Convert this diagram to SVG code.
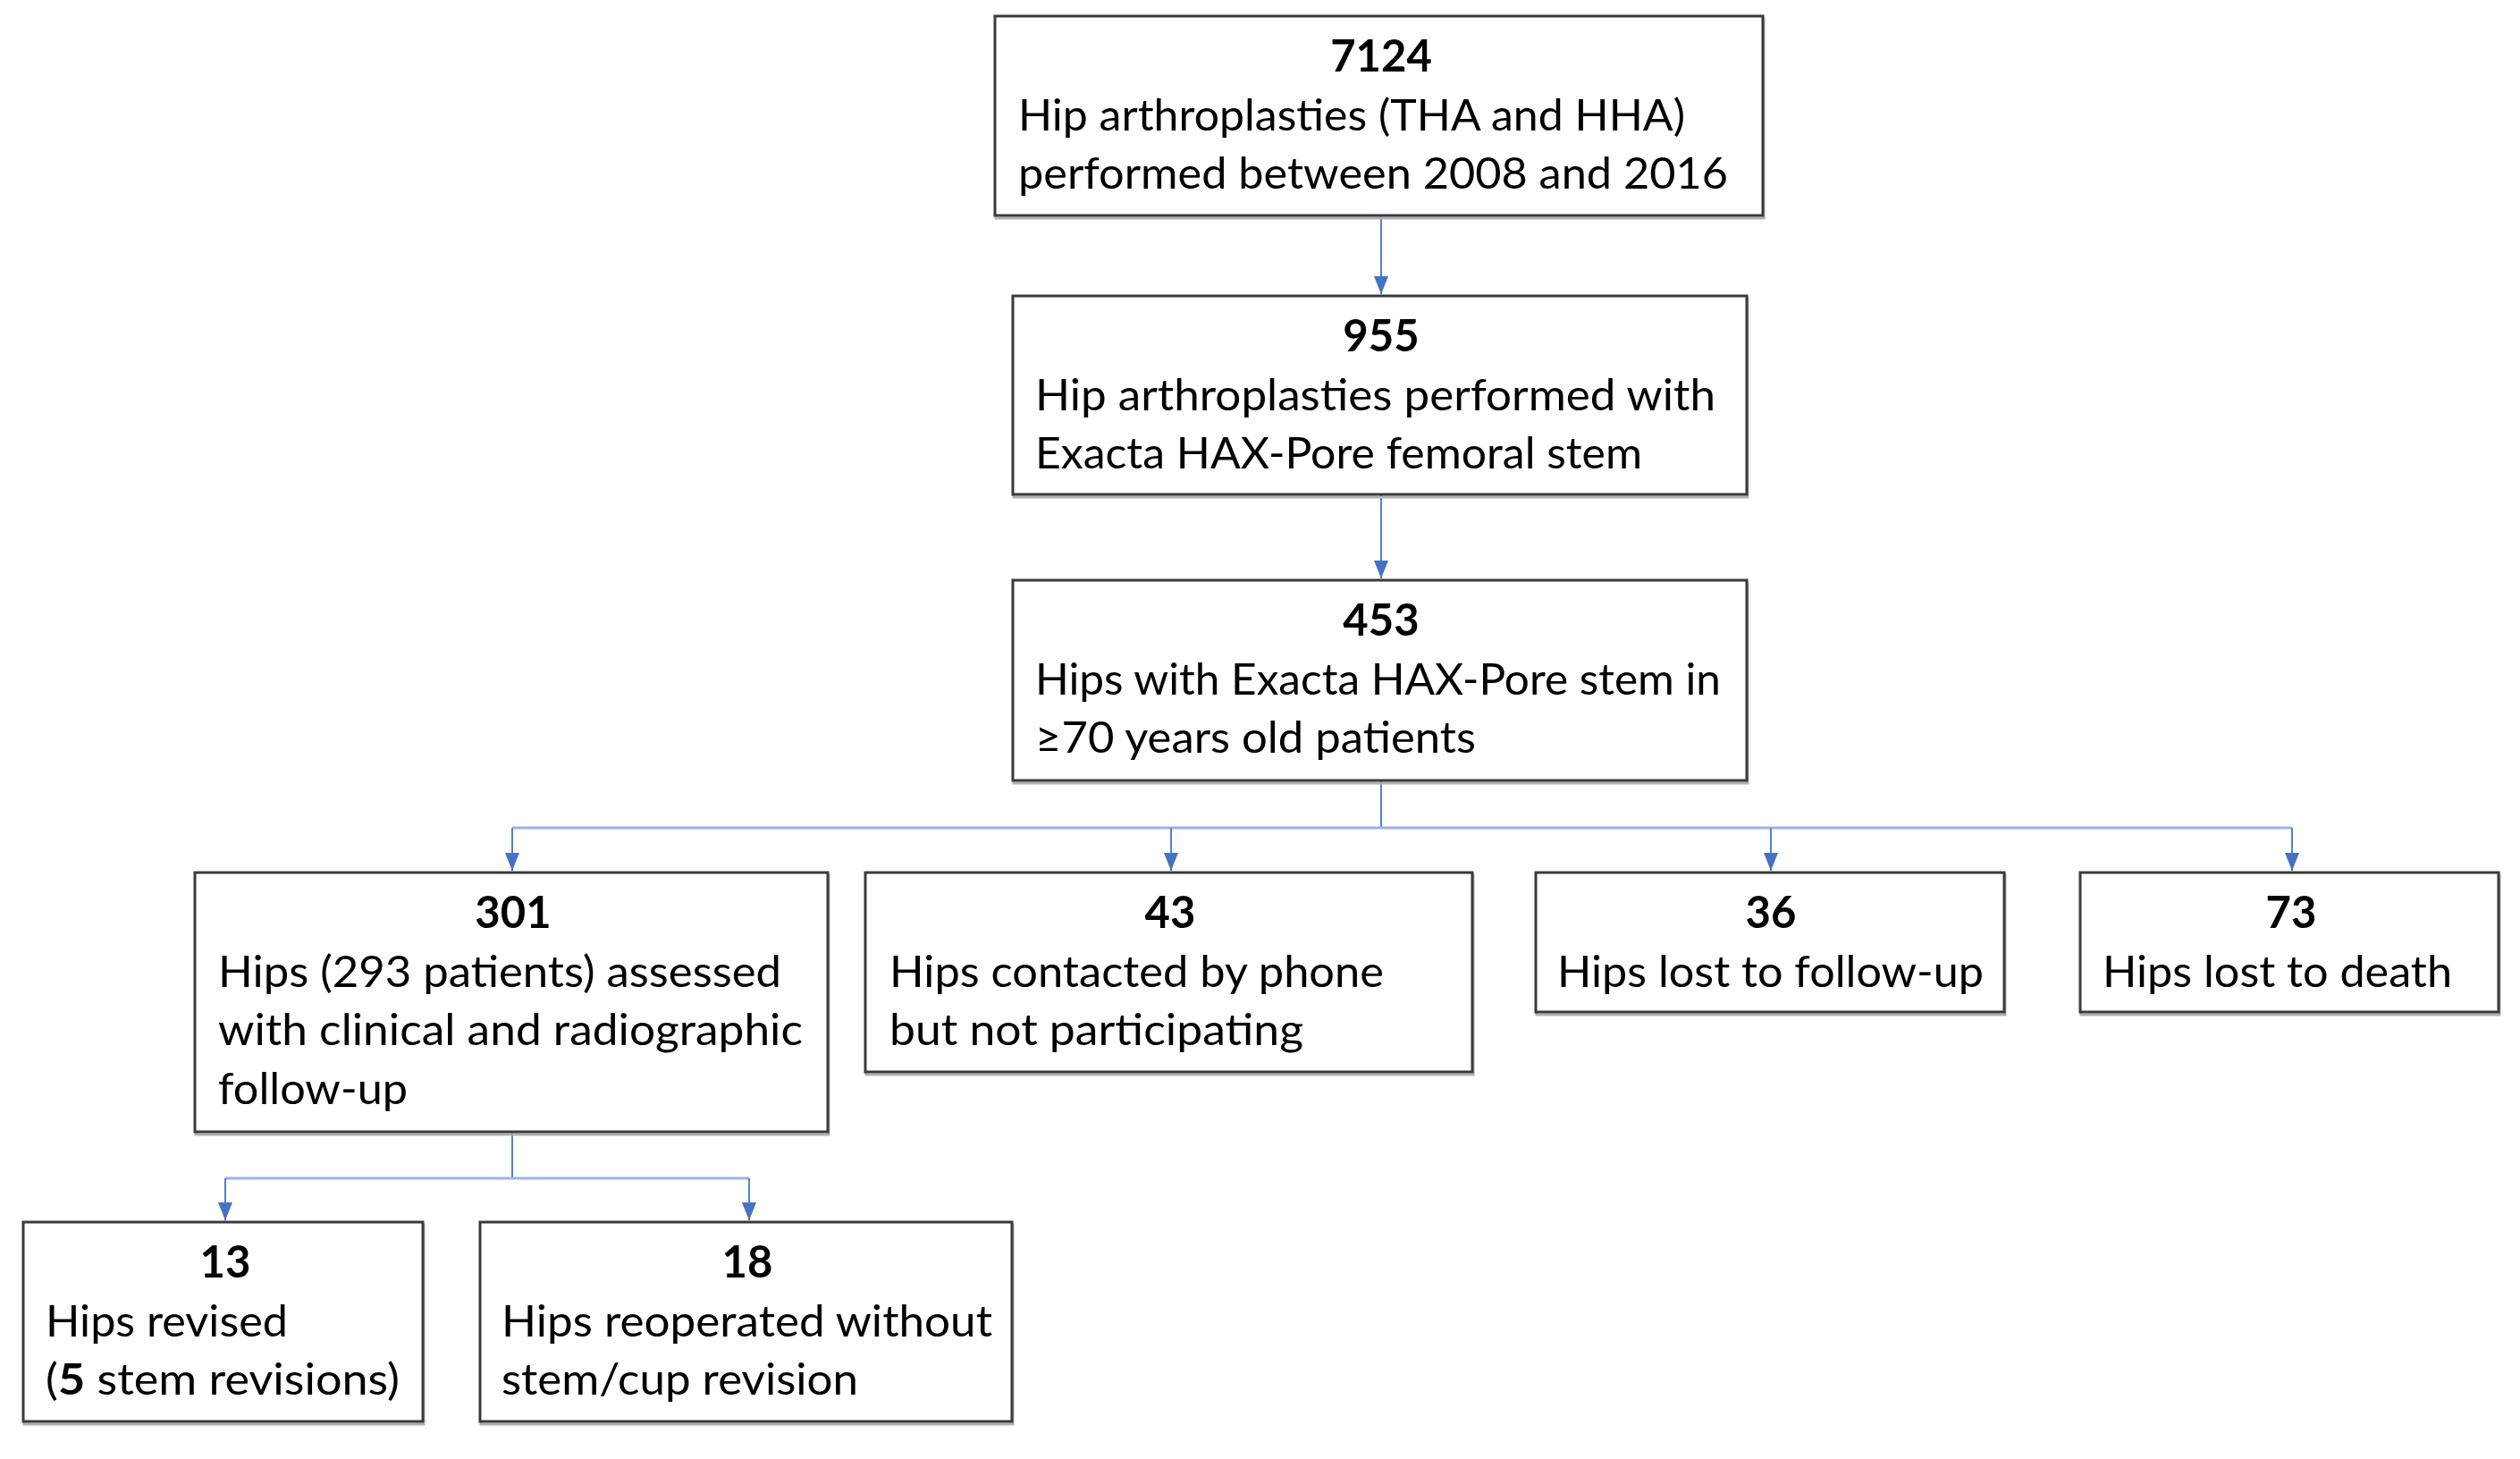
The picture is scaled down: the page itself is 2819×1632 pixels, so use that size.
<svg xmlns="http://www.w3.org/2000/svg" width="2819" height="1632" viewBox="0 0 2819 1632">
<style>
.box{fill:#fff;stroke:#3a3a3a;stroke-width:3}
.sh{fill:none;stroke:#b0b0b0;stroke-width:3}
.num{font-family:Lato,"Liberation Sans",sans-serif;font-weight:bold;font-size:49px;fill:#000;text-anchor:middle}
.t{font-family:Lato,"Liberation Sans",sans-serif;font-size:48px;fill:#000}
.v{fill:none;stroke:#5580cc;stroke-width:2}
.h{fill:none;stroke:#9cb4e2;stroke-width:3}
</style>
<defs>
<marker id="ah" markerUnits="userSpaceOnUse" markerWidth="16" markerHeight="20" viewBox="0 0 16 20" refX="8" refY="20" orient="0">
<path d="M0,0 L16,0 L8,20 Z" fill="#4472c4"/>
</marker>
</defs>
<g id="connectors">
<path class="v" d="M1545,241 V329" marker-end="url(#ah)"/>
<path class="v" d="M1545,553 V647" marker-end="url(#ah)"/>
<path class="v" d="M1545,873 V926"/>
<path class="h" d="M573,926 H2564"/>
<path class="v" d="M573,926 V974" marker-end="url(#ah)"/>
<path class="v" d="M1310,926 V974" marker-end="url(#ah)"/>
<path class="v" d="M1981,926 V974" marker-end="url(#ah)"/>
<path class="v" d="M2564,926 V974" marker-end="url(#ah)"/>
<path class="v" d="M573,1266 V1318"/>
<path class="h" d="M252,1318 H838"/>
<path class="v" d="M252,1318 V1365" marker-end="url(#ah)"/>
<path class="v" d="M838,1318 V1365" marker-end="url(#ah)"/>
</g>
<g id="n7124">
<rect class="sh" x="1114" y="21" width="859" height="223"/>
<rect class="box" x="1113" y="18" width="859" height="223"/>
<text class="num" x="1545" y="80">7124</text>
<text class="t" x="1139" y="146" textLength="746" lengthAdjust="spacingAndGlyphs">Hip arthroplasties (THA and HHA)</text>
<text class="t" x="1139" y="211" textLength="794" lengthAdjust="spacingAndGlyphs">performed between 2008 and 2016</text>
</g>
<g id="n955">
<rect class="sh" x="1134" y="334" width="821" height="222"/>
<rect class="box" x="1133" y="331" width="821" height="222"/>
<text class="num" x="1545" y="393">955</text>
<text class="t" x="1158" y="459" textLength="761" lengthAdjust="spacingAndGlyphs">Hip arthroplasties performed with</text>
<text class="t" x="1158" y="524" textLength="679" lengthAdjust="spacingAndGlyphs">Exacta HAX-Pore femoral stem</text>
</g>
<g id="n453">
<rect class="sh" x="1134" y="652" width="821" height="224"/>
<rect class="box" x="1133" y="649" width="821" height="224"/>
<text class="num" x="1545" y="711">453</text>
<text class="t" x="1158" y="777" textLength="767" lengthAdjust="spacingAndGlyphs">Hips with Exacta HAX-Pore stem in</text>
<text class="t" x="1158" y="842" textLength="493" lengthAdjust="spacingAndGlyphs">≥70 years old patients</text>
</g>
<g id="n301">
<rect class="sh" x="219" y="979" width="708" height="290"/>
<rect class="box" x="218" y="976" width="708" height="290"/>
<text class="num" x="574" y="1038">301</text>
<text class="t" x="244" y="1104" textLength="630" lengthAdjust="spacingAndGlyphs">Hips (293 patients) assessed</text>
<text class="t" x="244" y="1169" textLength="654" lengthAdjust="spacingAndGlyphs">with clinical and radiographic</text>
<text class="t" x="244" y="1235" textLength="212" lengthAdjust="spacingAndGlyphs">follow-up</text>
</g>
<g id="n43">
<rect class="sh" x="969" y="979" width="679" height="223"/>
<rect class="box" x="968" y="976" width="679" height="223"/>
<text class="num" x="1309" y="1038">43</text>
<text class="t" x="995" y="1104" textLength="553" lengthAdjust="spacingAndGlyphs">Hips contacted by phone</text>
<text class="t" x="995" y="1169" textLength="463" lengthAdjust="spacingAndGlyphs">but not participating</text>
</g>
<g id="n36">
<rect class="sh" x="1719" y="979" width="524" height="156"/>
<rect class="box" x="1718" y="976" width="524" height="156"/>
<text class="num" x="1981" y="1038">36</text>
<text class="t" x="1742" y="1104" textLength="477" lengthAdjust="spacingAndGlyphs">Hips lost to follow-up</text>
</g>
<g id="n73">
<rect class="sh" x="2328" y="979" width="468" height="156"/>
<rect class="box" x="2327" y="976" width="468" height="156"/>
<text class="num" x="2563" y="1038">73</text>
<text class="t" x="2352" y="1104" textLength="391" lengthAdjust="spacingAndGlyphs">Hips lost to death</text>
</g>
<g id="n13">
<rect class="sh" x="27" y="1370" width="447" height="223"/>
<rect class="box" x="26" y="1367" width="447" height="223"/>
<text class="num" x="252" y="1429">13</text>
<text class="t" x="51" y="1495" textLength="271" lengthAdjust="spacingAndGlyphs">Hips revised</text>
<text class="t" x="51" y="1560" textLength="396" lengthAdjust="spacingAndGlyphs">(<tspan font-weight="bold">5</tspan> stem revisions)</text>
</g>
<g id="n18">
<rect class="sh" x="538" y="1370" width="595" height="223"/>
<rect class="box" x="537" y="1367" width="595" height="223"/>
<text class="num" x="836" y="1429">18</text>
<text class="t" x="561" y="1495" textLength="549" lengthAdjust="spacingAndGlyphs">Hips reoperated without</text>
<text class="t" x="561" y="1560" textLength="399" lengthAdjust="spacingAndGlyphs">stem/cup revision</text>
</g>
</svg>
